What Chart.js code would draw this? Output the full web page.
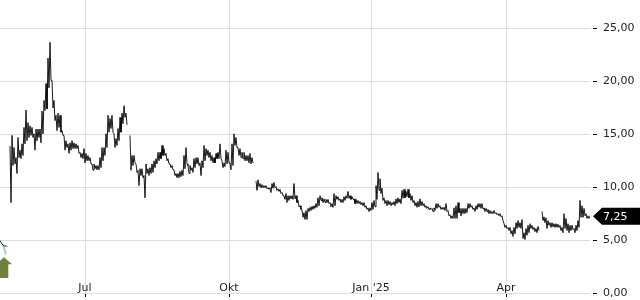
<!DOCTYPE html>
<html>
<head>
<meta charset="utf-8">
<style>
  html, body { margin: 0; padding: 0; background: #fff; }
  canvas { display: block; }
</style>
<script src="https://cdn.jsdelivr.net/npm/chart.js@4"></script>
</head>
<body>
<canvas id="chart" width="640" height="300"></canvas>
<script>
// session high / low, null = break in the line
const highs = [
  4.96, 4.68, 4.5, 4.49, null, 13.9, 14.9, 13.75, 12.8, 14.7,
  13.5, 14.1, 15.65, 17.3, 16.1, 15.8, 15.65, 15.05, 15.5, 15.5,
  15.5, 17.2, 18.2, 19.8, 22.2, 23.7, 20.1, 18.2, 16.8, 17,
  16.8, 15.35, 14.9, 14.4, 14.1, 14.2, 14.4, 14.2, 14.1, 13.95,
  13.3, 13.2, 13.65, 13.2, 13, 12.8, 12.2, 12.2, 12.05, 12.05,
  12.8, 13.75, 13.75, 15.05, 16.8, 16.5, 16.8, 15.05, 14.6, 15.55,
  16.6, 17, 17.7, 17, null, 14.9, 13, 13, 12.2, 11.6,
  11.75, 11.75, 11.1, 12.2, 11.75, 11.85, 12.2, 12.5, 12.7, 13.3,
  13.3, 13.95, 13.65, 13.2, 12.7, 12.2, 12.05, 11.65, 11.3, 11.3,
  11.5, 11.6, 13, 13.75, 12.05, 12.05, 11.85, 12.7, 12.8, 12.8,
  12.3, 12.5, 13.95, 13.65, 13.5, 13.3, 13, 12.8, 13.2, 13.3,
  14.1, 12.5, 12.3, 13.5, 13.3, 12.3, 14.1, 15.05, 14.7, 13.75,
  13.65, 13.3, 13.3, 13, 13, 13.2, 12.8, null, 10.6, 10.7,
  10.35, 10.25, 10.15, 10.15, 9.95, 9.95, 10.35, 10.45, 10.05, 9.85,
  9.8, 9.5, 9.2, 9.4, 9.2, 9.2, 9.2, 10.35, 9.2, 8.75,
  8.25, 7.85, 7.6, 7.8, 8, 8.1, 8.2, 8.25, 8.45, 9,
  9.2, 9, 8.9, 8.85, 8.85, 8.55, 8.45, 9.4, 9.2, 9.1,
  8.9, 8.85, 9.1, 9.2, 9.6, 9.2, 9.1, 8.9, 8.85, 8.75,
  8.65, 8.55, 8.55, 8.25, 8.05, 8.05, 8.55, 8.75, 10.15, 11.4,
  10.8, 9.9, 9, 8.75, 8.75, 8.65, 8.55, 8.65, 8.9, 9,
  8.9, 9.7, 9.8, 9.6, 9.8, 9.4, 9.2, 8.75, 8.55, 8.65,
  8.9, 8.65, 8.45, 8.25, 8.15, 8.05, 8, 8.05, 8.45, 8.45,
  8.25, 8.1, 8.1, 8.45, 7.8, 7.4, 7.3, 8.05, 8.25, 8.55,
  8, 8, 8, 8, 8.45, 8.45, 8.25, 8.05, 8.25, 8.45,
  8.45, 8.45, 8.05, 8, 7.9, 7.8, 7.7, 7.8, 7.6, 7.5,
  7.5, 7.3, 6.55, 6.4, 6.2, 6.2, 5.9, 6.2, 6.65, 6.85,
  6.65, 6.95, 5.7, 6.1, 6.4, 6.55, 6.4, 6.2, 6.1, 6.3,
  null, 7.7, 7.2, 7.1, 6.85, 6.65, 6.65, 6.55, 6.55, 6.5,
  6.4, 6.2, 7.5, 7.05, 6.55, 6.4, 6.4, 6.1, 6.4, 6.85,
  8.75, 8.25, 8, 7.5, 7.3, 7.25
];
const lows = [
  4.77, 4.5, 4.39, 4.39, null, 8.55, 12.05, 12.2, 11.3, 12.8,
  12.7, 13, 14.1, 14.4, 14.7, 14.9, 14.7, 13.5, 14.4, 14.7,
  14.2, 15.05, 17.25, 17.4, 19.4, 20.1, 17.5, 16.3, 15.35, 15.65,
  15.2, 14.9, 13.5, 13.75, 13.2, 13.5, 13.65, 13.65, 13.65, 13.2,
  12.8, 12.7, 12.3, 12.5, 12.5, 12.2, 11.6, 11.75, 11.65, 11.65,
  11.85, 12.5, 13, 13.75, 15.2, 15.55, 15.2, 13.75, 13.95, 14.4,
  15.2, 16, 16.6, 15.9, null, 11.6, 12.05, 12.3, 11.4, 10.15,
  11.1, 10.9, 9, 11.3, 11.1, 11.3, 11.4, 11.85, 12.2, 12.5,
  12.7, 13, 13, 12.5, 12.2, 11.85, 11.65, 11.1, 10.9, 10.9,
  11, 11.1, 11.75, 12.2, 11.3, 11.6, 11.4, 11.85, 12.2, 12.05,
  11.1, 11.85, 12.5, 13, 12.8, 12.5, 12.3, 12.3, 12.7, 12.7,
  12.7, 11.85, 11.95, 12.2, 12.3, 11.65, 12.05, 13.95, 13.75, 13,
  12.8, 12.7, 12.5, 12.5, 12.3, 12.2, 12.3, null, 9.7, 10.05,
  9.95, 9.95, 9.95, 9.85, 9.8, 9.5, 9.9, 9.95, 9.7, 9.6,
  9.4, 9.2, 8.85, 8.55, 8.75, 8.9, 8.85, 8.9, 8.55, 8.15,
  7.9, 7.15, 6.95, 6.95, 7.7, 7.8, 7.9, 8, 8.1, 8.25,
  8.75, 8.55, 8.55, 8.55, 8.45, 8.15, 8.1, 8.25, 8.85, 8.75,
  8.55, 8.55, 8.75, 8.95, 8.95, 8.85, 8.85, 8.45, 8.45, 8.45,
  8.35, 8.25, 8.1, 7.9, 7.7, 7.8, 7.9, 8.15, 8.85, 9.7,
  9.4, 8.75, 8.45, 8.25, 8.35, 8.25, 8.35, 8.25, 8.45, 8.55,
  8.45, 8.95, 9, 9.1, 9, 8.75, 8.55, 8.25, 8.1, 8.15,
  8.25, 8.25, 8.1, 8, 7.9, 7.9, 7.7, 7.8, 8, 8.1,
  7.9, 7.9, 7.8, 7.7, 7.3, 7.05, 7.05, 7.05, 7.05, 7.6,
  7.3, 7.5, 7.5, 7.6, 8, 8.1, 7.9, 7.7, 7.9, 8.1,
  8, 7.95, 7.7, 7.7, 7.5, 7.5, 7.5, 7.5, 7.4, 7.3,
  7.2, 6.85, 6.2, 6.1, 5.9, 5.6, 5.35, 5.6, 6.1, 6.2,
  6.1, 5.15, 5.05, 5.45, 5.7, 6.1, 6, 5.8, 5.7, 5.9,
  null, 6.85, 6.65, 6.1, 6.4, 6.2, 6.25, 6.2, 6.2, 6.2,
  5.9, 5.7, 6.1, 5.9, 5.7, 5.9, 6, 5.7, 5.9, 6.2,
  7.15, 7.15, 7.3, 7.05, 7.05, 7.25
];
const yTickValues = [0, 5, 10, 15, 20, 25];
const xTickSessions = [42.5, 114.5, 185.5, 253];
const xTickLabels = ['Jul', 'Okt', "Jan '25", 'Apr'];
const lastPrice = 7.25;
const markerLine = [[1.5, 4.5], [3, 3.65]];
const signalMarker = [[2, 2.39]];

const formatPrice = (v) => v.toFixed(2).replace('.', ',');

const pricePoints = [];
highs.forEach((high, i) => {
  if (high === null) {
    pricePoints.push({x: i, y: null});
    return;
  }
  pricePoints.push({x: i, y: high});
  pricePoints.push({x: i + 0.5, y: lows[i]});
});

// green up arrow used as point style
const arrowIcon = document.createElement('canvas');
arrowIcon.width = 16;
arrowIcon.height = 21;
const a = arrowIcon.getContext('2d');
a.fillStyle = '#6f7f3e';
a.beginPath();
a.moveTo(8, 0);
a.lineTo(16, 7);
a.lineTo(12.3, 7);
a.lineTo(12.3, 21);
a.lineTo(3.7, 21);
a.lineTo(3.7, 7);
a.lineTo(0, 7);
a.closePath();
a.fill();

const priceTag = {
  id: 'priceTag',
  afterDraw(chart) {
    const ctx = chart.ctx;
    const y = chart.scales.y.getPixelForValue(lastPrice);
    const left = chart.chartArea.right + 3;
    ctx.save();
    ctx.fillStyle = '#000';
    ctx.beginPath();
    ctx.moveTo(left, y);
    ctx.lineTo(left + 9, y - 8.5);
    ctx.lineTo(640, y - 8.5);
    ctx.lineTo(640, y + 8.5);
    ctx.lineTo(left + 9, y + 8.5);
    ctx.closePath();
    ctx.fill();
    ctx.fillStyle = '#fff';
    ctx.font = '11px "DejaVu Sans"';
    ctx.textBaseline = 'middle';
    ctx.fillText(formatPrice(lastPrice), left + 10, y + 1);
    ctx.restore();
  }
};

new Chart(document.getElementById('chart'), {
  type: 'line',
  data: {
    datasets: [{
      data: pricePoints,
      borderColor: '#000',
      borderWidth: 0.9,
      borderJoinStyle: 'bevel',
      pointRadius: 0,
      tension: 0,
      spanGaps: false,
      order: 2
    }, {
      data: markerLine.map(([x, y]) => ({x, y})),
      borderColor: '#9fd0d4',
      borderWidth: 2,
      pointRadius: 0,
      order: 3
    }, {
      data: signalMarker.map(([x, y]) => ({x, y})),
      showLine: false,
      pointStyle: arrowIcon,
      clip: false,
      order: 1
    }]
  },
  options: {
    responsive: false,
    animation: false,
    events: [],
    layout: {padding: 0, autoPadding: false},
    plugins: {legend: {display: false}, tooltip: {enabled: false}},
    scales: {
      x: {
        type: 'linear',
        min: 0,
        max: 295,
        afterBuildTicks(scale) {
          scale.ticks = xTickSessions.map((value) => ({value}));
        },
        afterFit(scale) {
          scale.height = 7;
          scale.paddingLeft = 0;
          scale.paddingRight = 0;
        },
        border: {display: false},
        grid: {color: '#dddddd', lineWidth: 1, tickColor: '#000', tickLength: 4},
        ticks: {
          autoSkip: false,
          maxRotation: 0,
          mirror: true,
          padding: -2,
          color: '#222',
          font: {family: '"DejaVu Sans"', size: 11},
          callback: (value) => xTickLabels[xTickSessions.indexOf(value)]
        }
      },
      y: {
        position: 'right',
        min: 0,
        max: 27.7,
        afterBuildTicks(scale) {
          scale.ticks = yTickValues.map((value) => ({value}));
        },
        afterFit(scale) {
          scale.width = 50;
          scale.paddingTop = 0;
          scale.paddingBottom = 0;
        },
        border: {display: false},
        grid: {color: '#dddddd', lineWidth: 1, tickColor: '#000', tickLength: 7, tickBorderDash: [0, 3, 4, 100]},
        ticks: {
          padding: 6,
          color: '#222',
          font: {family: '"DejaVu Sans"', size: 11},
          callback: formatPrice
        }
      }
    }
  },
  plugins: [priceTag]
});
</script>
</body>
</html>
